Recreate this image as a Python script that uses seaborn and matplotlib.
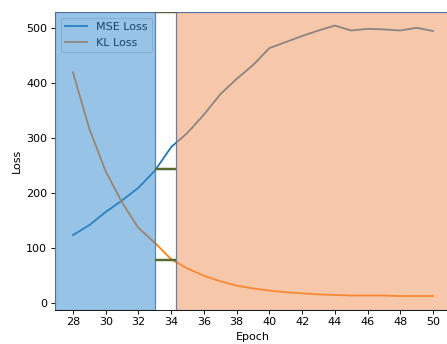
import matplotlib
matplotlib.use("Agg")
import matplotlib.pyplot as plt
import seaborn as sns
import pandas as pd

epochs = list(range(28, 51))
mse_loss = [124, 142, 166, 187, 210, 241, 284, 310, 343, 380, 408, 433, 464,
            475, 486, 496, 505, 496, 499, 498, 496, 501, 495]
kl_loss = [420, 317, 240, 183, 137, 110, 80, 63, 50, 40, 32, 27, 23,
           20, 18, 16, 15, 14, 14, 14, 13, 13, 13]
split_lo, split_hi = 33.0, 34.28
bridge_y = [244, 78]

df = pd.DataFrame({"Epoch": epochs * 2,
                   "Loss": mse_loss + kl_loss,
                   "Series": ["MSE Loss"] * len(epochs) + ["KL Loss"] * len(epochs)})

DPI = 80
fig = plt.figure(figsize=(447 / DPI, 344 / DPI), dpi=DPI)
ax = fig.add_axes([0.123, 0.100, 0.886, 0.865])
sns.lineplot(data=df, x="Epoch", y="Loss", hue="Series",
             palette=["#1f77b4", "#ff7f0e"], ax=ax, linewidth=1.6)
ax.set_xticks(range(28, 51, 2))
ax.set_yticks(range(0, 501, 100))
x0, x1 = ax.get_xlim()
ax.axvspan(x0, split_lo, facecolor=(49/255, 137/255, 209/255, 0.5),
           edgecolor=(0.35, 0.45, 0.65, 0.9), linewidth=1.1, zorder=6)
ax.axvspan(split_hi, x1 + 1, facecolor=(241/255, 145/255, 85/255, 0.5),
           edgecolor=(0.35, 0.45, 0.65, 0.9), linewidth=1.1, zorder=6)
ax.hlines(bridge_y, split_lo, split_hi, colors="#556b2f", linewidth=2.2, zorder=7)
ax.hlines([1], split_lo, split_hi, colors="#4f6a3a", linewidth=1.3, zorder=7,
          transform=ax.get_xaxis_transform())
ax.set_xlim(x0, x1)
leg = ax.legend(loc="upper left", title=None)
leg.set_zorder(5)
ax.set_xlabel("Epoch")
ax.set_ylabel("Loss")
fig.savefig("out.png", dpi=DPI)
